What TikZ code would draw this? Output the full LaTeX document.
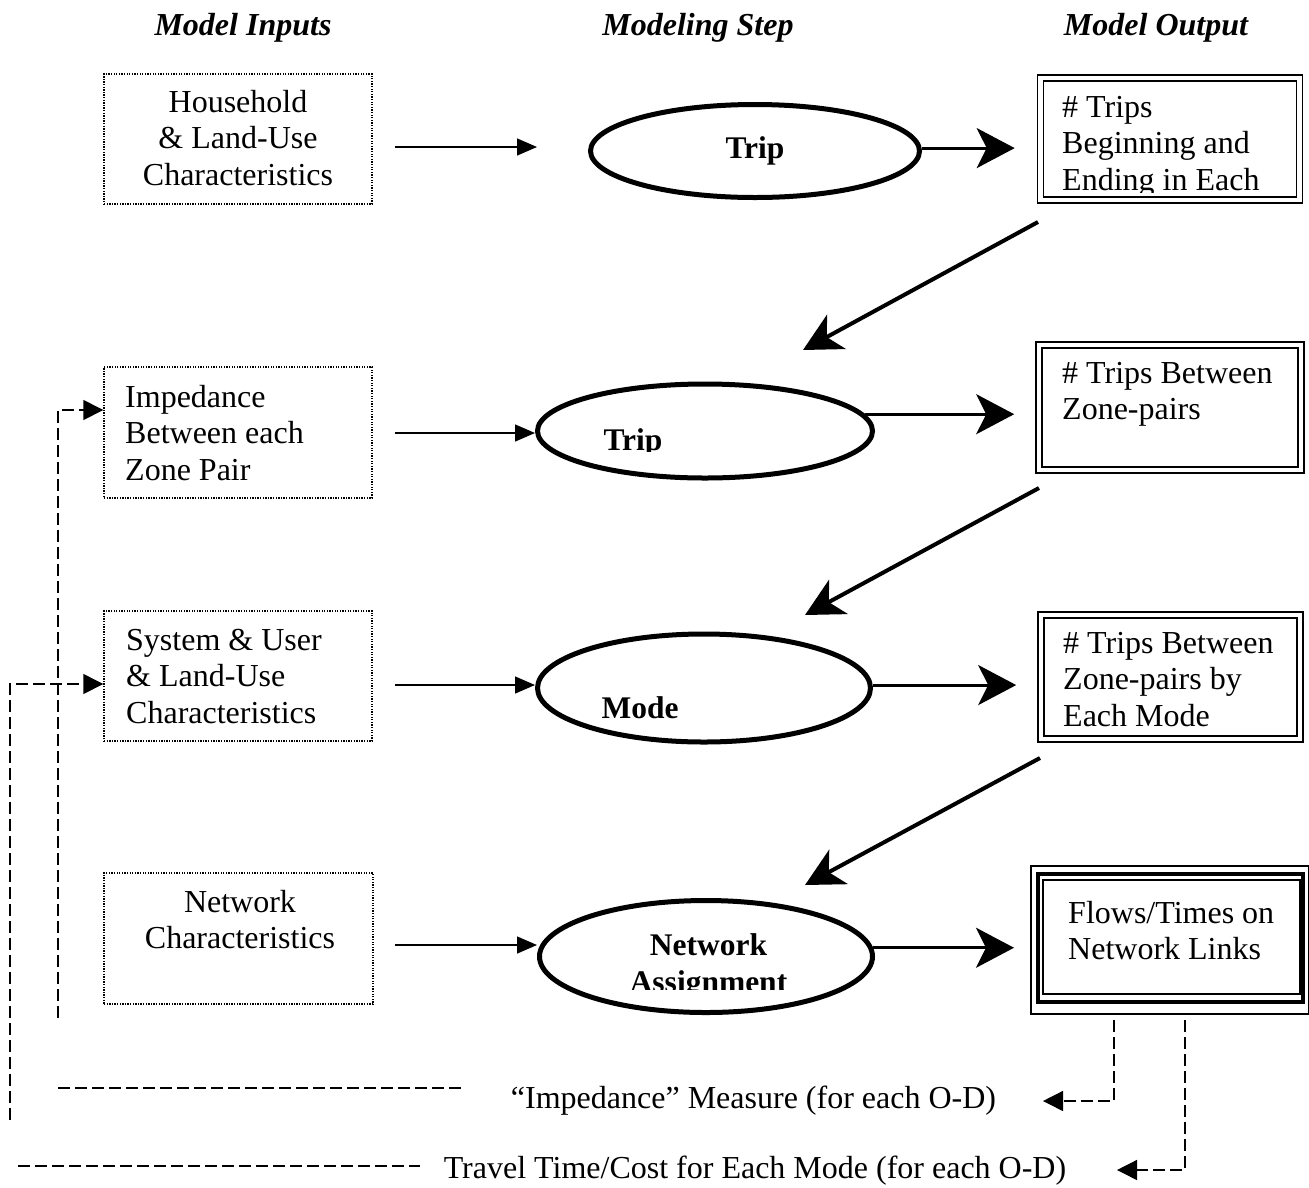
\documentclass[tikz,border=0pt]{standalone}
\usepackage{fontspec}
\setmainfont{Liberation Serif}
\usetikzlibrary{arrows.meta,calc,shapes.geometric}
\newcommand{\mlines}[2]{\begin{tabular}[t]{@{}#1@{}}#2\end{tabular}}
\begin{document}
\begin{tikzpicture}[x=1pt,y=-1pt,
  txt/.style={inner sep=0pt, font=\fontsize{32}{36.7}\selectfont},
  steptxt/.style={inner sep=0pt, font=\fontsize{31.5}{37}\selectfont\bfseries},
  hdr/.style={inner sep=0pt, font=\fontsize{32}{37}\selectfont\bfseries\itshape},
  inbox/.style={draw, line width=1.4pt, dash pattern=on 1.3pt off 1.3pt, inner sep=0pt},
  outbox/.style={draw, line width=1.6pt, double, double distance=4.2pt, inner sep=0pt},
  stepell/.style={ellipse, draw, line width=5pt, inner sep=0pt},
  thinarr/.style={line width=1.4pt, -{Triangle[length=20pt,width=17pt]}},
  harr/.style={line width=3pt, -{Stealth[length=38pt,width=40pt,inset=10pt]}},
  darr/.style={line width=4pt, -{Stealth[length=38pt,width=39pt,inset=11pt]}},
  fb/.style={line width=1.4pt, dash pattern=on 12pt off 5pt},
  fbarr/.style={line width=1.4pt, dash pattern=on 12pt off 5pt, -{Triangle[length=20pt,width=20pt]}}
]
\useasboundingbox (0,0) rectangle (1309,1187);

% headers
\node[hdr, anchor=base] (h1) at (243,35) {Model Inputs};
\node[hdr, anchor=base] (h2) at (698,35) {Modeling Step};
\node[hdr, anchor=base] (h3) at (1156,35) {Model Output};

% input boxes
\node[inbox, minimum width=268pt, minimum height=130pt] (b1) at (238,139) {};
\node[inbox, minimum width=268pt, minimum height=131pt] (b2) at (238,432.5) {};
\node[inbox, minimum width=268pt, minimum height=130pt] (b3) at (238,676) {};
\node[inbox, minimum width=269pt, minimum height=131pt] (b4) at (238.5,938.5) {};
\node[txt, anchor=base] (b1t) at (238,112) {\mlines{c}{Household\\\& Land-Use\\Characteristics}};
\node[txt, anchor=base west] (b2t) at (125,407) {\mlines{l}{Impedance\\Between each\\Zone Pair}};
\node[txt, anchor=base west] (b3t) at (126,650) {\mlines{l}{System \& User\\\& Land-Use\\Characteristics}};
\node[txt, anchor=base] (b4t) at (240,912) {\mlines{c}{Network\\Characteristics}};

% modeling steps
\node[stepell, minimum width=329pt, minimum height=93pt] (e1) at (755,151) {};
\node[stepell, minimum width=335pt, minimum height=94pt] (e2) at (705,431) {};
\node[stepell, minimum width=333pt, minimum height=108pt] (e3) at (704,688) {};
\node[stepell, minimum width=333pt, minimum height=112pt] (e4) at (706,956.5) {};
\node[steptxt, anchor=base] (e1t) at (755,158) {Trip};
\begin{scope}
  \clip (560,380) rectangle (860,451);
  \node[steptxt, anchor=base] (e2t) at (633,450) {Trip};
\end{scope}
\node[steptxt, anchor=base] (e3t) at (640,718) {Mode};
\begin{scope}
  \clip (560,900) rectangle (860,989);
  \node[steptxt, anchor=base] (e4t) at (708.5,955) {\mlines{c}{Network\\Assignment}};
\end{scope}

% output boxes
\node[outbox, minimum width=259pt, minimum height=122pt] (o1) at (1170,139) {};
\node[outbox, minimum width=262pt, minimum height=125pt] (o2) at (1170,407.5) {};
\node[outbox, minimum width=259pt, minimum height=124pt] (o3) at (1170.5,677) {};
\node[draw, line width=4pt, inner sep=0pt, minimum width=265pt, minimum height=128pt] (o4) at (1170.5,938) {};
\draw[line width=1.4pt] ($(o4.north west)+(-5,-6)$) rectangle ($(o4.south east)+(4,10)$);
\draw[line width=1.4pt] ($(o4.north west)+(7,8)$) rectangle ($(o4.south east)+(-5,-10)$);
\begin{scope}
  \clip (1050,85) rectangle (1295,192);
  \node[txt, anchor=base west] (o1t) at (1062,117) {\mlines{l}{\# Trips\\Beginning and\\Ending in Each}};
\end{scope}
\node[txt, anchor=base west] (o2t) at (1062,383) {\mlines{l}{\# Trips Between\\Zone-pairs}};
\node[txt, anchor=base west] (o3t) at (1063,653) {\mlines{l}{\# Trips Between\\Zone-pairs by\\Each Mode}};
\node[txt, anchor=base west] (o4t) at (1068,923) {\mlines{l}{Flows/Times on\\Network Links}};

% input -> step arrows
\coordinate (a1s) at (395,147);
\coordinate (a1e) at (537,147);
\coordinate (a2s) at (395,433);
\coordinate (a3s) at (395,685);
\coordinate (a4s) at (395,945);
\draw[thinarr] (a1s) -- (a1e);
\draw[thinarr] (a2s) -- (a2s -| e2.west);
\draw[thinarr] (a3s) -- (a3s -| e3.west);
\draw[thinarr] (a4s) -- (a4s -| e4.west);

% step -> output arrows
\draw[harr] (e1.1.4) -- ($(e1.1.4 -| o1.west)+(-25,0)$);
\draw[harr] (e2.6) -- ($(e2.6 -| o2.west)+(-24,0)$);
\draw[harr] (e3.1.4) -- ($(e3.1.4 -| o3.west)+(-24,0)$);
\draw[harr] (e4.3.3) -- ($(e4.3.3 -| o4.west)+(-22,0)$);

% output -> next step arrows
\coordinate (d1s) at (1038,222);
\coordinate (d1e) at (803,350);
\coordinate (d2s) at (1039,488);
\coordinate (d2e) at (805,615);
\coordinate (d3s) at (1040,758);
\coordinate (d3e) at (805,885);
\draw[darr] (d1s) -- (d1e);
\draw[darr] (d2s) -- (d2e);
\draw[darr] (d3s) -- (d3e);

% feedback on the left
\coordinate (f1a) at (58,1018);
\coordinate (f1b) at (58,410);
\draw[fbarr] (f1a) -- (f1b) -- (f1b -| b2.west);
\coordinate (f2a) at (10,1120);
\coordinate (f2b) at (10,684);
\draw[fbarr] (f2a) -- (f2b) -- (f2b -| b3.west);

% bottom texts
\node[txt, anchor=base] (imp) at (753.5,1108) {“Impedance” Measure (for each O-D)};
\node[txt, anchor=base] (trv) at (755,1178) {Travel Time/Cost for Each Mode (for each O-D)};
\coordinate (l1a) at (58,1088);
\coordinate (l1b) at (465,1088);
\draw[fb] (l1a) -- (l1b);
\coordinate (l2a) at (18,1166);
\coordinate (l2b) at (420,1166);
\draw[fb] (l2a) -- (l2b);

% feedback from flows box
\coordinate (g1a) at (1114,1020);
\coordinate (g1b) at (1114,1101);
\coordinate (g1c) at (1043,1101);
\draw[fbarr] (g1a) -- (g1b) -- (g1c);
\coordinate (g2a) at (1185,1020);
\coordinate (g2b) at (1185,1170);
\coordinate (g2c) at (1117,1170);
\draw[fbarr] (g2a) -- (g2b) -- (g2c);
\end{tikzpicture}
\end{document}
